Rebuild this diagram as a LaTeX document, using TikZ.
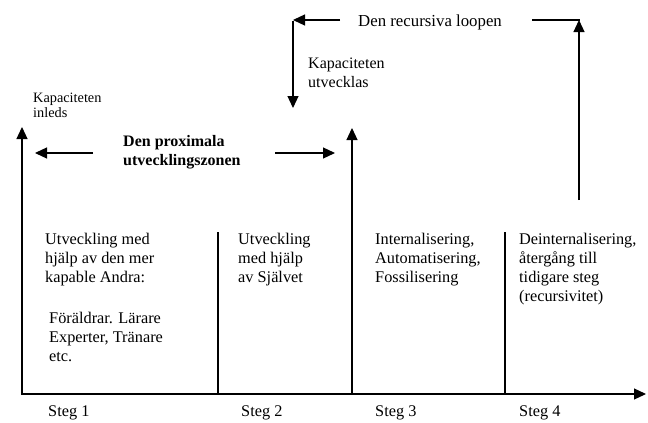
\documentclass[tikz,border=0pt]{standalone}
\usepackage{fontspec}
\setmainfont{Liberation Serif}
\usetikzlibrary{arrows.meta}
\begin{document}
\begin{tikzpicture}[x=1pt,y=-1pt,
  ln/.style={line width=1.2pt,black},
  arr/.style={ln,-{Triangle[length=12pt,width=11pt]}},
  body/.style={inner sep=0pt,anchor=north west,align=left,font=\fontsize{16.3}{19}\selectfont},
  lbl/.style={inner sep=0pt,anchor=base west,font=\fontsize{16.3}{19}\selectfont},
  looplbl/.style={inner sep=0pt,anchor=base west,font=\fontsize{16.8}{19}\selectfont},
  small/.style={inner sep=0pt,anchor=north west,align=left,font=\fontsize{14.3}{15}\selectfont},
  mid/.style={inner sep=0pt,anchor=north west,align=left,font=\fontsize{16}{19}\selectfont},
  zone/.style={inner sep=0pt,anchor=north west,align=left,font=\bfseries\fontsize{16}{19.5}\selectfont}]
\useasboundingbox (0,0) rectangle (648,423);
% coordinates
\coordinate (o) at (22,394);
\coordinate (ytop) at (22,127);
\coordinate (xs) at (21,394);
\coordinate (xe) at (646,394);
\coordinate (d1t) at (218,232);
\coordinate (d1b) at (218,394);
\coordinate (m0) at (352,394);
\coordinate (mtop) at (352,128);
\coordinate (d3t) at (505,232);
\coordinate (d3b) at (505,394);
\coordinate (r0) at (579,200);
\coordinate (rtop) at (579,20);
\coordinate (rl) at (532,20);
\coordinate (ls) at (340,20);
\coordinate (lc) at (293,20);
\coordinate (ld) at (293,108);
\coordinate (pl0) at (93,153);
\coordinate (pl1) at (35,153);
\coordinate (pr0) at (275,153);
\coordinate (pr1) at (335,153);
% axes and dividers
\draw[arr] (o) -- (ytop);
\draw[arr] (xs) -- (xe);
\draw[ln] (d1t) -- (d1b);
\draw[arr] (m0) -- (mtop);
\draw[ln] (d3t) -- (d3b);
% recursive loop
\draw[arr] (r0) -- (rtop);
\draw[ln] (rl) -- ([xshift=0.6pt]rtop);
\draw[arr] (ls) -- (lc);
\draw[arr] ([yshift=-0.6pt]lc) -- (ld);
% proximal zone
\draw[arr] (pl0) -- (pl1);
\draw[arr] (pr0) -- (pr1);
% texts
\node[looplbl] (loop) at (358,27) {Den recursiva loopen};
\node[mid] (utv) at (308,54.7) {\strut Kapaciteten\\utvecklas};
\node[small] (inl) at (33,91.5) {\strut Kapaciteten\\inleds};
\node[zone] (zon) at (123,132.3) {\strut Den proximala\\utvecklingszonen};
\node[body] (t1a) at (45,230.7) {\strut Utveckling med\\hjälp av den mer\\kapable Andra:};
\node[body] (t1b) at (49,309.7) {\strut Föräldrar. Lärare\\Experter, Tränare\\etc.};
\node[body] (t2) at (238,230.7) {\strut Utveckling\\med hjälp\\av Självet};
\node[body] (t3) at (375,230.7) {\strut Internalisering,\\Automatisering,\\Fossilisering};
\node[body] (t4) at (519,230.7) {\strut Deinternalisering,\\återgång till\\tidigare steg\\(recursivitet)};
\node[lbl] (s1) at (48,416) {Steg 1};
\node[lbl] (s2) at (241,416) {Steg 2};
\node[lbl] (s3) at (375,416) {Steg 3};
\node[lbl] (s4) at (519,416) {Steg 4};
\end{tikzpicture}
\end{document}
